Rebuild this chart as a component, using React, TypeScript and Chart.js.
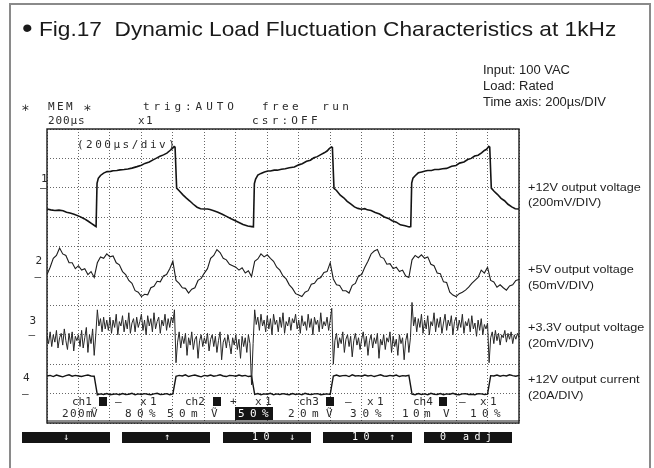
import React, { useEffect, useRef } from "react";
import { Chart, registerables } from "chart.js";

Chart.register(...registerables);

// ---------------- data (time in µs, level in screen divisions, 0 = bottom) ----------------
const TIME_SPAN_US = 3000; // 15 div x 200 µs
const TIME_DIV_US = 200;
const SCREEN_DIVS = 10;

// ch1: +12V output voltage (200mV/DIV), ground marker at div 8
const ch1Time = [
  0, 24, 50, 76, 102, 124, 146, 172, 210, 236, 260, 284, 306, 312, 318, 326, 340, 360, 382, 404,
  420, 444, 464, 490, 514, 540, 572, 600, 622, 650, 674, 696, 718, 740, 762, 780, 794, 808, 814, 824,
  840, 864, 886, 908, 930, 954, 976, 998, 1020, 1036, 1060, 1086, 1114, 1144, 1170, 1194, 1220, 1246, 1276, 1302,
  1312, 1318,
  1326, 1340, 1360, 1382, 1404, 1420, 1444, 1464, 1490, 1514, 1540, 1572, 1600, 1622, 1650, 1674, 1696, 1718, 1740, 1762,
  1780, 1794, 1808, 1814, 1824, 1840, 1864, 1886, 1908, 1930, 1954, 1976, 1998, 2020, 2036, 2060, 2086, 2114, 2144, 2170,
  2194, 2220, 2246, 2276, 2302, 2312, 2318,
  2326, 2340, 2360, 2382, 2404, 2420, 2444, 2464, 2490, 2514, 2540, 2572, 2600, 2622, 2650, 2674, 2696, 2718, 2740, 2762,
  2780, 2794, 2808, 2814, 2824, 2840, 2864, 2886, 2908, 2930, 2954, 2976, 3000,
];
const ch1Values = [
  7.28, 7.25, 7.23, 7.24, 7.22, 7.17, 7.14, 7.1, 7.02, 6.95, 6.87, 6.78, 6.7, 6.68, 8.15, 8.32, 8.42, 8.5, 8.55, 8.56,
  8.58, 8.59, 8.61, 8.62, 8.64, 8.67, 8.72, 8.77, 8.83, 8.88, 8.95, 9.01, 9.07, 9.12, 9.18, 9.26, 9.32, 9.4, 9.38, 7.99,
  7.9, 7.76, 7.65, 7.55, 7.44, 7.34, 7.29, 7.28, 7.28, 7.26, 7.22, 7.17, 7.1, 7.02, 6.95, 6.89, 6.82, 6.75, 6.7, 6.68,
  6.67, 8.14,
  8.3, 8.43, 8.49, 8.54, 8.57, 8.57, 8.6, 8.6, 8.63, 8.65, 8.68, 8.71, 8.78, 8.82, 8.9, 8.94, 9.02, 9.06, 9.13, 9.19,
  9.25, 9.33, 9.39, 9.37, 7.98, 7.91, 7.75, 7.66, 7.54, 7.45, 7.35, 7.3, 7.27, 7.29, 7.25, 7.23, 7.16, 7.11, 7.01, 6.96,
  6.88, 6.83, 6.74, 6.71, 6.67, 6.68, 8.16,
  8.33, 8.41, 8.51, 8.54, 8.57, 8.59, 8.59, 8.62, 8.62, 8.65, 8.66, 8.73, 8.76, 8.84, 8.88, 8.96, 9.0, 9.08, 9.11, 9.19,
  9.27, 9.31, 9.41, 9.38, 7.99, 7.89, 7.77, 7.64, 7.56, 7.44, 7.35, 7.29, 7.28,
];

// ch2: +5V output voltage (50mV/DIV), ground marker at div 5, sampled every 20 µs
const ch2SampleUs = 20;
const ch2Values = [
  5.05, 5.3, 5.6, 5.7, 5.95, 5.75, 5.7, 5.45, 5.45, 5.25,
  5.35, 5.2, 5.25, 5.05, 5.15, 4.95, 5.45, 5.65, 5.6, 5.75,
  5.65, 5.68, 5.45, 5.38, 5.15, 5.05, 4.85, 4.75, 4.5, 4.45,
  4.3, 4.38, 4.36, 4.6, 4.65, 4.82, 4.8, 5.0, 5.05, 5.25,
  5.5, 4.85, 4.75, 4.6, 4.58, 4.42, 4.55, 4.6, 4.85, 4.92,
  5.1, 5.25, 5.6, 5.7, 5.9, 5.8, 5.6, 5.55, 5.4, 5.35,
  5.3, 5.2, 5.28, 5.1, 5.18, 4.98, 5.5, 5.58, 5.75, 5.65,
  5.72, 5.6, 5.5, 5.3, 5.2, 5.0, 4.9, 4.7, 4.58, 4.4,
  4.35, 4.3, 4.45, 4.5, 4.72, 4.75, 4.9, 4.95, 5.12, 5.15,
  5.45, 4.9, 4.7, 4.68, 4.5, 4.5, 4.42, 4.68, 4.75, 5.0,
  5.05, 5.3, 5.5, 5.75, 5.85, 5.9, 5.65, 5.6, 5.4, 5.42,
  5.25, 5.3, 5.15, 5.2, 5.0, 4.95, 5.55, 5.7, 5.62, 5.72,
  5.6, 5.65, 5.4, 5.35, 5.1, 5.08, 4.8, 4.78, 4.45, 4.35,
  4.3, 4.4, 4.45, 4.52, 4.62, 4.75, 4.85, 4.95, 5.2, 5.1,
  5.3, 4.85, 4.8, 4.62, 4.7, 4.6, 4.52, 4.66, 4.7, 4.85,
  4.88,
];

// ch3: +3.3V output voltage (20mV/DIV), ground marker at div 3, sampled every 10 µs
const ch3SampleUs = 10;
const ch3Values = [
  2.95, 2.7, 3.1, 2.6, 3.0, 2.75, 3.15, 2.55, 2.9, 3.05, 2.65, 3.2, 2.8, 2.5, 3.05, 2.7, 3.1, 2.45, 2.95, 2.8,
  3.0, 2.6, 3.15, 2.55, 2.9, 3.25, 2.4, 3.0, 2.7, 3.2, 2.3, 3.0, 3.85, 3.3, 3.55, 3.1, 3.6, 3.2, 3.5, 3.15,
  3.6, 3.05, 3.5, 3.25, 3.7, 3.0, 3.45, 3.3, 3.65, 3.1, 3.5, 3.2, 3.75, 3.05, 3.4, 3.55, 3.1, 3.6, 3.25, 3.45,
  3.7, 3.15, 3.5, 3.0, 3.65, 3.3, 3.55, 3.1, 3.75, 3.2, 3.45, 3.6, 3.05, 3.5, 3.3, 3.7, 3.15, 3.55, 3.25, 3.6,
  3.4, 3.85, 2.05, 2.75, 3.1, 2.55, 2.95, 2.7, 3.05, 2.3, 2.9, 2.65, 3.1, 2.5, 2.85, 2.95, 2.2, 2.8, 3.0, 2.6,
  2.9, 2.7, 3.05, 2.45, 2.85, 3.0, 2.6, 2.95, 2.4, 2.8, 3.1, 2.15, 2.75, 2.9, 2.55, 3.0, 2.7, 2.35, 2.9, 2.65,
  3.0, 2.5, 2.85, 2.2, 2.95, 2.6, 2.9, 2.4, 3.0, 2.7, 1.3, 2.7, 3.85, 3.35, 3.6, 3.15, 3.7, 3.3, 3.5, 3.1,
  3.65, 3.2, 3.55, 3.0, 3.7, 3.35, 3.5, 3.1, 3.6, 3.25, 3.75, 3.05, 3.45, 3.3, 3.6, 3.15, 3.55, 3.4, 3.7, 3.2,
  3.5, 3.05, 3.65, 3.3, 3.45, 3.15, 3.7, 3.25, 3.55, 3.0, 3.6, 3.35, 3.5, 3.1, 3.75, 3.2, 3.45, 3.3, 3.6, 3.15,
  3.5, 3.9, 2.0, 2.8, 3.05, 2.55, 2.9, 2.7, 3.1, 2.4, 2.85, 3.0, 2.6, 2.95, 2.25, 2.8, 3.05, 2.65, 2.9, 2.5,
  2.85, 3.1, 2.6, 2.95, 2.3, 2.8, 3.0, 2.55, 2.9, 2.7, 3.05, 2.2, 2.85, 2.65, 3.0, 2.5, 2.9, 2.75, 3.1, 2.4,
  2.95, 2.6, 2.85, 2.3, 3.0, 2.7, 2.9, 2.15, 2.8, 3.05, 2.4, 2.9, 4.1, 3.3, 3.6, 3.1, 3.55, 3.25, 3.7, 3.05,
  3.5, 3.2, 3.65, 3.0, 3.45, 3.3, 3.75, 3.1, 3.55, 3.25, 3.6, 3.05, 3.4, 3.7, 3.15, 3.5, 3.3, 3.65, 3.0, 3.45,
  3.6, 3.15, 3.5, 3.25, 3.7, 3.05, 3.45, 3.3, 3.55, 3.1, 3.65, 3.2, 3.4, 2.95, 3.5, 3.15, 3.55, 3.0, 3.35, 3.2,
  3.4, 2.05, 2.9, 3.1, 2.7, 3.15, 2.8, 3.05, 2.65, 3.0, 2.9, 3.15, 2.75, 3.05, 2.85, 3.1, 2.7, 3.0, 2.85, 3.05, 2.9,
];

// ch4: +12V output current (20A/DIV), ground marker at div 1, sampled every 20 µs
const ch4SampleUs = 20;
const ch4Values = [
  1.6, 1.62, 1.58, 1.63, 1.6, 1.57, 1.61, 1.64, 1.59, 1.62, 1.6, 1.58, 1.61, 1.63, 1.6, 1.59,
  0.96, 0.99, 0.97, 1.0, 0.96, 0.98, 0.99, 0.96, 1.0, 0.97, 0.98, 1.01, 0.96, 0.99, 0.97, 1.0, 0.98, 0.96, 0.99, 1.01, 0.97, 0.98, 1.0, 0.96, 0.99,
  1.59, 1.62, 1.6, 1.64, 1.58, 1.61, 1.63, 1.6, 1.57, 1.62, 1.6, 1.63, 1.59, 1.61, 1.64, 1.6, 1.58, 1.62, 1.61, 1.59, 1.63, 1.6, 1.62, 1.58, 1.6,
  0.97, 1.0, 0.96, 0.99, 0.98, 1.01, 0.96, 0.99, 0.97, 1.0, 0.98, 0.96, 1.0, 0.97, 0.99, 0.96, 1.01, 0.98, 0.97, 0.99, 1.0, 0.96, 0.98, 0.99, 0.97,
  1.6, 1.63, 1.59, 1.61, 1.62, 1.58, 1.64, 1.6, 1.61, 1.59, 1.63, 1.6, 1.62, 1.58, 1.61, 1.64, 1.6, 1.59, 1.62, 1.6, 1.63, 1.58, 1.61, 1.6, 1.62,
  0.98, 0.96, 1.0, 0.97, 0.99, 0.96, 1.01, 0.98, 0.97, 1.0, 0.96, 0.99, 0.98, 1.01, 0.97, 0.96, 0.99, 1.0, 0.97, 0.98, 0.96, 1.0, 0.99, 0.97, 0.98,
  1.61, 1.6, 1.63, 1.59, 1.62, 1.6, 1.64, 1.61, 1.59, 1.62,
];

// texts
const titleBullet = "\u2022";
const titleText = " Fig.17  Dynamic Load Fluctuation Characteristics at 1kHz";
const infoLines = ["Input: 100 VAC", "Load: Rated", "Time axis: 200\u00b5s/DIV"];
const channelNames = ["+12V output voltage", "+5V output voltage", "+3.3V output voltage", "+12V output current"];
const channelScales = ["(200mV/DIV)", "(50mV/DIV)", "(20mV/DIV)", "(20A/DIV)"];

// ---------------- rendering ----------------
const MONO = '"DejaVu Sans Mono", "Liberation Mono", monospace';
const SANS = '"Liberation Sans", Arial, Helvetica, sans-serif';

type TxtProps = {
  x: number;
  y: number;
  children: React.ReactNode;
  size?: number;
  font?: string;
  ls?: number;
  sx?: number;
  color?: string;
};

function Txt({ x, y, children, size = 11, font = MONO, ls = 0, sx = 1, color = "#2a2a2a" }: TxtProps) {
  return (
    <div
      style={{
        position: "absolute",
        left: x,
        top: y - size * 0.5,
        fontFamily: font,
        fontSize: size,
        lineHeight: `${size}px`,
        letterSpacing: ls,
        whiteSpace: "pre",
        color,
        transform: sx !== 1 ? `scaleX(${sx})` : undefined,
        transformOrigin: "0 0",
      }}
    >
      {children}
    </div>
  );
}

function Block({ x, y, w, h }: { x: number; y: number; w: number; h: number }) {
  return <div style={{ position: "absolute", left: x, top: y, width: w, height: h, background: "#141414" }} />;
}

const boxPlugin = {
  id: "scopeBox",
  afterDraw(chart: any) {
    const { ctx, chartArea: a } = chart;
    ctx.save();
    ctx.strokeStyle = "#1a1a1a";
    ctx.lineWidth = 1.4;
    ctx.strokeRect(a.left, a.top, a.right - a.left, a.bottom - a.top);
    ctx.lineWidth = 1;
    ctx.beginPath();
    ctx.moveTo(a.left, a.bottom - 2);
    ctx.lineTo(a.right, a.bottom - 2);
    ctx.stroke();
    ctx.restore();
  },
};

export default function App() {
  const ref = useRef<HTMLCanvasElement>(null);

  useEffect(() => {
    if (!ref.current) return;
    const toPts = (vals: number[], step: number) => vals.map((v, i) => ({ x: i * step, y: v }));
    const ch1 = ch1Time.map((t, i) => ({ x: t, y: ch1Values[i] }));
    const gridCommon = { color: "#666", lineWidth: 1, drawTicks: false };
    const borderCommon = { display: false, dash: [1, 2] };
    const chart = new Chart(ref.current, {
      type: "line",
      data: {
        datasets: [
          { data: ch1, borderColor: "#141414", borderWidth: 1.6 },
          { data: toPts(ch2Values, ch2SampleUs), borderColor: "#1c1c1c", borderWidth: 1.1 },
          { data: toPts(ch3Values, ch3SampleUs), borderColor: "#262626", borderWidth: 1 },
          { data: toPts(ch4Values, ch4SampleUs), borderColor: "#141414", borderWidth: 1.4 },
        ],
      },
      options: {
        animation: false,
        responsive: false,
        devicePixelRatio: 1,
        events: [],
        parsing: false,
        elements: { point: { radius: 0 }, line: { tension: 0, fill: false } },
        layout: { padding: { left: 47, right: 135, top: 129, bottom: 45 } },
        plugins: { legend: { display: false }, tooltip: { enabled: false }, title: { display: false } },
        scales: {
          x: {
            type: "linear",
            min: 0,
            max: TIME_SPAN_US,
            ticks: { display: false, stepSize: TIME_DIV_US, maxTicksLimit: 50 },
            grid: gridCommon,
            border: borderCommon,
          },
          y: {
            type: "linear",
            min: 0,
            max: SCREEN_DIVS,
            ticks: { display: false, stepSize: 1, maxTicksLimit: 50 },
            grid: gridCommon,
            border: borderCommon,
          },
        },
      } as any,
      plugins: [boxPlugin],
    });
    return () => chart.destroy();
  }, []);

  const scopeColor = "#2b2b2b";

  return (
    <div style={{ position: "fixed", left: 0, top: 0, width: 654, height: 468, overflow: "hidden", background: "#fff" }}>
      <div
        style={{
          position: "absolute",
          left: 9,
          top: 3,
          width: 638,
          height: 500,
          border: "2px solid #8a8a8a",
        }}
      />
      <canvas ref={ref} width={654} height={468} style={{ position: "absolute", left: 0, top: 0, width: 654, height: 468 }} />

      {/* title */}
      <Txt x={22} y={28} size={21} font={SANS} sx={1.08} color="#1a1a1a">
        <span style={{ fontSize: 28, lineHeight: "21px", verticalAlign: "top", position: "relative", top: -1 }}>{titleBullet}</span>
        {titleText}
      </Txt>

      {/* info block */}
      {infoLines.map((t, i) => (
        <Txt key={t} x={483} y={[70, 86, 101.5][i]} size={12} font={SANS} sx={1.08} color="#222">
          {t}
        </Txt>
      ))}

      {/* oscilloscope header */}
      <Txt x={21} y={107} size={14} color={scopeColor}>{"\u2217"}</Txt>
      <Txt x={48} y={106.7} ls={2.4} color={scopeColor}>MEM</Txt>
      <Txt x={83} y={107} size={14} color={scopeColor}>{"\u2217"}</Txt>
      <Txt x={143} y={106.7} ls={3.9} color={scopeColor}>trig:AUTO</Txt>
      <Txt x={262} y={106.7} ls={3.4} color={scopeColor}>free  run</Txt>
      <Txt x={48} y={120} ls={0.9} color={scopeColor}>{"200\u00b5s"}</Txt>
      <Txt x={138} y={120} ls={1.4} color={scopeColor}>x1</Txt>
      <Txt x={252} y={120} ls={3.2} color={scopeColor}>csr:OFF</Txt>

      <Txt x={77} y={144} ls={2.5} color={scopeColor}>{"(200\u00b5s/div)"}</Txt>

      {/* channel markers */}
      <Txt x={41} y={178} color={scopeColor}>1</Txt>
      <Txt x={40} y={187.8} color={scopeColor}>{"\u2013"}</Txt>
      <Txt x={35.5} y={260} color={scopeColor}>2</Txt>
      <Txt x={34.5} y={276} color={scopeColor}>{"\u2013"}</Txt>
      <Txt x={29.5} y={320} color={scopeColor}>3</Txt>
      <Txt x={28.5} y={334.8} color={scopeColor}>{"\u2013"}</Txt>
      <Txt x={23} y={377} color={scopeColor}>4</Txt>
      <Txt x={22} y={393.6} color={scopeColor}>{"\u2013"}</Txt>

      {/* channel settings row 1 */}
      <Txt x={72} y={401.5} color={scopeColor}>ch1</Txt>
      <Block x={99} y={397} w={8} h={9} />
      <Txt x={115} y={401.5} color={scopeColor}>{"\u2013"}</Txt>
      <Txt x={140} y={401.5} ls={3.4} color={scopeColor}>x1</Txt>
      <Txt x={185} y={401.5} color={scopeColor}>ch2</Txt>
      <Block x={213} y={397} w={8} h={9} />
      <Txt x={230} y={401.5} color={scopeColor}>+</Txt>
      <Txt x={255} y={401.5} ls={3.4} color={scopeColor}>x1</Txt>
      <Txt x={299} y={401.5} color={scopeColor}>ch3</Txt>
      <Block x={326} y={397} w={8} h={9} />
      <Txt x={345} y={401.5} color={scopeColor}>{"\u2013"}</Txt>
      <Txt x={367} y={401.5} ls={3.4} color={scopeColor}>x1</Txt>
      <Txt x={413} y={401.5} color={scopeColor}>ch4</Txt>
      <Block x={439} y={397} w={8} h={9} />
      <Txt x={459} y={401.5} color={scopeColor}>{"\u2013"}</Txt>
      <Txt x={480} y={401.5} ls={3.4} color={scopeColor}>x1</Txt>

      {/* channel settings row 2 */}
      <Txt x={62} y={413.5} ls={1.4} color={scopeColor}>200m</Txt>
      <Txt x={91} y={413.5} color={scopeColor}>{"\u1e7c"}</Txt>
      <Txt x={125} y={413.5} ls={5.4} color={scopeColor}>80%</Txt>
      <Txt x={167} y={413.5} ls={5.4} color={scopeColor}>50m</Txt>
      <Txt x={211} y={413.5} color={scopeColor}>{"\u1e7c"}</Txt>
      <Block x={235} y={407} w={38} h={13} />
      <Txt x={238} y={413.5} ls={5.4} color="#fff">50%</Txt>
      <Txt x={288} y={413.5} ls={5.4} color={scopeColor}>20m</Txt>
      <Txt x={326} y={413.5} color={scopeColor}>{"\u1e7c"}</Txt>
      <Txt x={350} y={413.5} ls={5.9} color={scopeColor}>30%</Txt>
      <Txt x={402} y={413.5} ls={4.4} color={scopeColor}>10m</Txt>
      <Txt x={443} y={413.5} color={scopeColor}>V</Txt>
      <Txt x={470} y={413.5} ls={5.4} color={scopeColor}>10%</Txt>

      {/* soft-key buttons */}
      <Block x={22} y={432} w={88} h={10.5} />
      <Block x={122} y={432} w={88} h={10.5} />
      <Block x={223} y={432} w={88} h={10.5} />
      <Block x={323} y={432} w={89} h={10.5} />
      <Block x={424} y={432} w={88} h={10.5} />
      <Txt x={63} y={437} size={10} color="#fff">{"\u2193"}</Txt>
      <Txt x={164} y={437} size={10} color="#fff">{"\u2191"}</Txt>
      <Txt x={252} y={437} size={10} ls={5.4} color="#fff">10</Txt>
      <Txt x={289} y={437} size={10} color="#fff">{"\u2193"}</Txt>
      <Txt x={352} y={437} size={10} ls={5.4} color="#fff">10</Txt>
      <Txt x={389} y={437} size={10} color="#fff">{"\u2191"}</Txt>
      <Txt x={440} y={437} size={10} color="#fff">0</Txt>
      <Txt x={463} y={437} size={10} ls={5.4} color="#fff">adj</Txt>

      {/* right-hand channel labels */}
      {channelNames.map((name, i) => {
        const centers = [[188, 203], [270, 286], [328, 344], [380, 396]][i];
        return (
          <React.Fragment key={name}>
            <Txt x={528} y={centers[0]} size={11.5} font={SANS} sx={1.1} color="#1e1e1e">{name}</Txt>
            <Txt x={528} y={centers[1]} size={11.5} font={SANS} sx={1.1} color="#1e1e1e">{channelScales[i]}</Txt>
          </React.Fragment>
        );
      })}
    </div>
  );
}
